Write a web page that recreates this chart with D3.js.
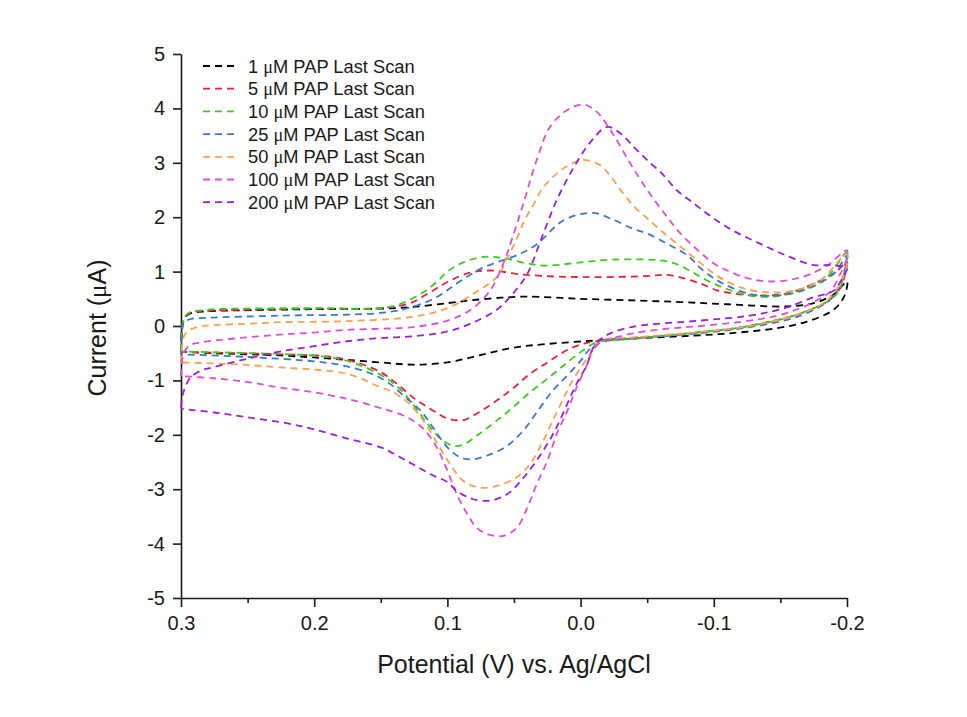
<!DOCTYPE html>
<html>
<head>
<meta charset="utf-8">
<script src="https://cdn.jsdelivr.net/npm/d3@7"></script>
<style>
  html, body { margin: 0; padding: 0; background: #ffffff; }
  svg text { font-family: "Liberation Sans", Arial, sans-serif; fill: #1a1a1a; }
</style>
</head>
<body>
<svg id="chart" width="967" height="717"></svg>
<script>
// ---------- data (Potential V, Current µA) ----------
const xTicks = [0.3, 0.2, 0.1, 0.0, -0.1, -0.2];
const xMinorTicks = [0.25, 0.15, 0.05, -0.05, -0.15];
const yTicks = [5, 4, 3, 2, 1, 0, -1, -2, -3, -4, -5];

const seriesNames = ["1", "5", "10", "25", "50", "100", "200"];
const seriesColors = ["#000000", "#e5233f", "#3fc820", "#3d78c7", "#f7a154", "#dc4fd8", "#9b1fe0"];

const pap1Fwd = [[0.3,-0.47],[0.298,0.1],[0.294,0.22],[0.28,0.27],[0.25,0.29],[0.2,0.31],[0.15,0.32],[0.126,0.35],[0.1,0.42],[0.083,0.47],[0.06,0.52],[0.04,0.54],[0.0,0.5],[-0.04,0.47],[-0.075,0.44],[-0.11,0.4],[-0.155,0.36],[-0.175,0.42],[-0.19,0.58],[-0.2,0.82]];
const pap1Rev = [[-0.198,0.55],[-0.19,0.3],[-0.17,0.08],[-0.147,-0.04],[-0.114,-0.13],[-0.09,-0.17],[-0.04,-0.23],[-0.01,-0.27],[0.025,-0.33],[0.051,-0.4],[0.076,-0.54],[0.1,-0.67],[0.126,-0.71],[0.15,-0.67],[0.188,-0.6],[0.226,-0.54],[0.276,-0.5],[0.3,-0.47]];

const pap5Fwd = [[0.3,-0.48],[0.298,0.12],[0.294,0.24],[0.28,0.28],[0.25,0.3],[0.2,0.32],[0.15,0.33],[0.128,0.42],[0.113,0.62],[0.1,0.81],[0.083,0.98],[0.068,1.02],[0.045,0.95],[0.02,0.91],[0.0,0.9],[-0.024,0.9],[-0.05,0.92],[-0.065,0.94],[-0.077,0.88],[-0.09,0.78],[-0.102,0.66],[-0.114,0.6],[-0.135,0.56],[-0.155,0.6],[-0.177,0.8],[-0.192,1.0],[-0.2,1.18]];
const pap5Rev = [[-0.198,0.9],[-0.195,0.7],[-0.185,0.45],[-0.165,0.23],[-0.14,0.07],[-0.114,-0.05],[-0.065,-0.17],[-0.015,-0.27],[0.0,-0.34],[0.013,-0.48],[0.025,-0.67],[0.038,-0.88],[0.051,-1.15],[0.063,-1.37],[0.076,-1.58],[0.088,-1.73],[0.1,-1.7],[0.113,-1.52],[0.126,-1.31],[0.138,-1.06],[0.15,-0.85],[0.168,-0.67],[0.19,-0.56],[0.226,-0.52],[0.276,-0.49],[0.3,-0.48]];

const pap10Fwd = [[0.3,-0.47],[0.298,0.12],[0.294,0.24],[0.28,0.3],[0.25,0.32],[0.2,0.33],[0.15,0.33],[0.136,0.4],[0.118,0.62],[0.108,0.81],[0.1,1.0],[0.088,1.17],[0.073,1.27],[0.058,1.25],[0.04,1.15],[0.025,1.11],[0.0,1.17],[-0.024,1.22],[-0.052,1.22],[-0.062,1.2],[-0.072,1.14],[-0.084,0.99],[-0.097,0.81],[-0.11,0.68],[-0.127,0.56],[-0.144,0.54],[-0.165,0.65],[-0.185,0.9],[-0.2,1.36]];
const pap10Rev = [[-0.198,1.0],[-0.195,0.71],[-0.19,0.53],[-0.165,0.23],[-0.127,0.0],[-0.09,-0.11],[-0.04,-0.23],[-0.015,-0.28],[-0.009,-0.33],[0.0,-0.48],[0.013,-0.73],[0.025,-0.97],[0.038,-1.22],[0.051,-1.5],[0.063,-1.74],[0.076,-1.98],[0.088,-2.18],[0.096,-2.2],[0.106,-2.05],[0.118,-1.7],[0.13,-1.31],[0.14,-1.06],[0.15,-0.9],[0.17,-0.68],[0.19,-0.57],[0.22,-0.52],[0.28,-0.48],[0.3,-0.47]];

const pap25Fwd = [[0.3,-0.52],[0.298,0.05],[0.294,0.12],[0.28,0.15],[0.226,0.19],[0.15,0.24],[0.128,0.34],[0.108,0.53],[0.093,0.78],[0.076,1.04],[0.063,1.17],[0.048,1.3],[0.033,1.5],[0.013,1.94],[-0.009,2.08],[-0.024,1.96],[-0.04,1.78],[-0.05,1.7],[-0.065,1.51],[-0.08,1.3],[-0.092,1.02],[-0.107,0.78],[-0.127,0.59],[-0.147,0.56],[-0.17,0.68],[-0.19,0.96],[-0.2,1.3]];
const pap25Rev = [[-0.198,1.0],[-0.195,0.78],[-0.188,0.5],[-0.165,0.19],[-0.127,-0.02],[-0.09,-0.13],[-0.04,-0.23],[-0.015,-0.3],[-0.007,-0.42],[0.0,-0.64],[0.01,-0.91],[0.021,-1.19],[0.031,-1.52],[0.043,-1.92],[0.055,-2.2],[0.07,-2.38],[0.081,-2.45],[0.09,-2.42],[0.1,-2.23],[0.111,-1.86],[0.12,-1.56],[0.133,-1.28],[0.145,-1.03],[0.16,-0.85],[0.18,-0.72],[0.2,-0.65],[0.25,-0.57],[0.3,-0.52]];

const pap50Fwd = [[0.3,-0.67],[0.298,-0.2],[0.295,-0.1],[0.288,-0.02],[0.24,0.05],[0.226,0.07],[0.175,0.09],[0.126,0.17],[0.1,0.33],[0.08,0.6],[0.063,0.9],[0.055,1.25],[0.048,1.6],[0.042,1.95],[0.035,2.25],[0.028,2.55],[0.018,2.8],[0.01,2.94],[0.0,3.05],[-0.008,3.03],[-0.015,2.95],[-0.022,2.77],[-0.03,2.5],[-0.04,2.2],[-0.05,1.98],[-0.06,1.76],[-0.072,1.52],[-0.087,1.22],[-0.102,0.93],[-0.12,0.71],[-0.14,0.62],[-0.16,0.65],[-0.18,0.84],[-0.2,1.33]];
const pap50Rev = [[-0.198,0.95],[-0.185,0.47],[-0.165,0.23],[-0.127,0.0],[-0.09,-0.11],[-0.04,-0.21],[-0.015,-0.27],[-0.009,-0.45],[-0.002,-0.7],[0.006,-1.0],[0.013,-1.34],[0.021,-1.74],[0.028,-2.11],[0.038,-2.54],[0.048,-2.78],[0.063,-2.94],[0.076,-2.97],[0.088,-2.85],[0.098,-2.54],[0.108,-2.14],[0.118,-1.74],[0.13,-1.4],[0.143,-1.19],[0.15,-1.13],[0.175,-0.88],[0.226,-0.76],[0.263,-0.7],[0.3,-0.67]];

const pap100Fwd = [[0.3,-0.92],[0.298,-0.5],[0.293,-0.35],[0.285,-0.3],[0.26,-0.23],[0.226,-0.16],[0.2,-0.12],[0.175,-0.07],[0.126,-0.02],[0.1,0.1],[0.083,0.29],[0.068,0.65],[0.058,1.15],[0.051,1.64],[0.043,2.25],[0.033,3.05],[0.023,3.66],[0.01,3.97],[-0.002,4.07],[-0.012,3.94],[-0.024,3.54],[-0.037,3.0],[-0.05,2.5],[-0.062,2.1],[-0.075,1.7],[-0.09,1.35],[-0.1,1.15],[-0.11,1.02],[-0.125,0.88],[-0.14,0.82],[-0.155,0.84],[-0.17,0.93],[-0.185,1.11],[-0.2,1.39]];
const pap100Rev = [[-0.198,1.1],[-0.195,0.96],[-0.188,0.65],[-0.175,0.44],[-0.152,0.22],[-0.127,0.1],[-0.09,0.0],[-0.065,-0.05],[-0.04,-0.13],[-0.022,-0.24],[-0.015,-0.3],[-0.009,-0.45],[-0.005,-0.7],[0.003,-1.13],[0.01,-1.56],[0.018,-1.99],[0.025,-2.48],[0.033,-2.91],[0.04,-3.34],[0.048,-3.71],[0.058,-3.86],[0.068,-3.84],[0.078,-3.71],[0.085,-3.46],[0.093,-3.09],[0.1,-2.66],[0.108,-2.23],[0.118,-1.89],[0.13,-1.68],[0.143,-1.56],[0.15,-1.51],[0.175,-1.34],[0.2,-1.22],[0.226,-1.13],[0.25,-1.03],[0.276,-0.96],[0.3,-0.92]];

const pap200Fwd = [[0.3,-1.5],[0.299,-1.3],[0.297,-1.13],[0.293,-0.95],[0.285,-0.82],[0.276,-0.76],[0.25,-0.6],[0.226,-0.47],[0.2,-0.37],[0.175,-0.28],[0.15,-0.22],[0.126,-0.19],[0.1,-0.1],[0.083,0.04],[0.063,0.3],[0.051,0.59],[0.04,0.96],[0.03,1.57],[0.018,2.31],[0.005,2.92],[-0.008,3.4],[-0.02,3.66],[-0.03,3.54],[-0.04,3.29],[-0.05,3.05],[-0.062,2.78],[-0.072,2.5],[-0.082,2.31],[-0.097,2.03],[-0.114,1.76],[-0.135,1.51],[-0.155,1.29],[-0.175,1.12],[-0.19,1.12],[-0.2,1.05]];
const pap200Rev = [[-0.198,0.95],[-0.19,0.65],[-0.175,0.53],[-0.152,0.32],[-0.127,0.19],[-0.09,0.1],[-0.04,-0.01],[-0.022,-0.14],[-0.015,-0.24],[-0.009,-0.42],[-0.005,-0.7],[0.003,-1.06],[0.01,-1.43],[0.018,-1.86],[0.025,-2.17],[0.035,-2.54],[0.045,-2.85],[0.055,-3.09],[0.068,-3.21],[0.081,-3.18],[0.093,-3.03],[0.1,-2.87],[0.113,-2.72],[0.126,-2.54],[0.138,-2.38],[0.15,-2.23],[0.175,-2.07],[0.2,-1.9],[0.22,-1.79],[0.25,-1.68],[0.275,-1.59],[0.3,-1.52]];

const seriesFwd = [pap1Fwd, pap5Fwd, pap10Fwd, pap25Fwd, pap50Fwd, pap100Fwd, pap200Fwd];
const seriesRev = [pap1Rev, pap5Rev, pap10Rev, pap25Rev, pap50Rev, pap100Rev, pap200Rev];

// ---------- drawing ----------
const svg = d3.select("#chart");
svg.append("rect").attr("width", 967).attr("height", 717).attr("fill", "#ffffff");

const x = d3.scaleLinear().domain([0.3, -0.2]).range([181, 847]);
const y = d3.scaleLinear().domain([-5, 5]).range([598, 54]);

// x axis
const xAxis = svg.append("g").attr("transform", "translate(0,598)")
  .call(d3.axisBottom(x).tickValues(xTicks).tickFormat(d3.format(".1f")).tickSize(9).tickSizeOuter(0).tickPadding(9));
svg.append("g").attr("transform", "translate(0,598)")
  .call(d3.axisBottom(x).tickValues(xMinorTicks).tickFormat("").tickSize(5).tickSizeOuter(0))
  .select(".domain").remove();

// y axis
const yAxis = svg.append("g").attr("transform", "translate(181,0)")
  .call(d3.axisLeft(y).tickValues(yTicks).tickFormat(d3.format("d")).tickSize(8).tickSizeOuter(0).tickPadding(8));

svg.selectAll(".domain, .tick line").attr("stroke", "#1a1a1a").attr("stroke-width", 1.6);
svg.selectAll(".tick text").attr("font-size", 20).attr("fill", "#1a1a1a")
  .style("font-family", "'Liberation Sans', Arial, sans-serif");
xAxis.selectAll(".tick text").text(d => d === 0 ? "0.0" : d3.format(".1f")(d).replace("−", "-"));
yAxis.selectAll(".tick text").text(d => String(d));

// axis titles
svg.append("text").attr("x", 514).attr("y", 673).attr("text-anchor", "middle")
  .attr("font-size", 25).text("Potential (V) vs. Ag/AgCl");
const yt = svg.append("text").attr("transform", "translate(106,328) rotate(-90)")
  .attr("text-anchor", "middle").attr("font-size", 25);
yt.append("tspan").text("Current (");
yt.append("tspan").style("font-family", "'Liberation Serif', 'DejaVu Serif', serif").text("μ");
yt.append("tspan").text("A)");

// curves
const line = d3.line().x(d => x(d[0])).y(d => y(d[1])).curve(d3.curveCatmullRom.alpha(0.5));
const plot = svg.append("g");
seriesNames.forEach((n, i) => {
  plot.append("path")
    .attr("d", line(seriesFwd[i].concat(seriesRev[i])))
    .attr("fill", "none")
    .attr("stroke", seriesColors[i])
    .attr("stroke-width", 1.8)
    .attr("stroke-dasharray", "7,5");
});

// legend
const legend = svg.append("g");
seriesNames.forEach((n, i) => {
  const ly = 66 + i * 22.7;
  legend.append("line").attr("x1", 203).attr("x2", 236).attr("y1", ly).attr("y2", ly)
    .attr("stroke", seriesColors[i]).attr("stroke-width", 1.8).attr("stroke-dasharray", "7,5");
  const t = legend.append("text").attr("x", 248).attr("y", ly + 6.5).attr("font-size", 18.3);
  t.append("tspan").text(n + " ");
  t.append("tspan").style("font-family", "'Liberation Serif', 'DejaVu Serif', serif").text("μ");
  t.append("tspan").text("M PAP Last Scan");
});
</script>
</body>
</html>
